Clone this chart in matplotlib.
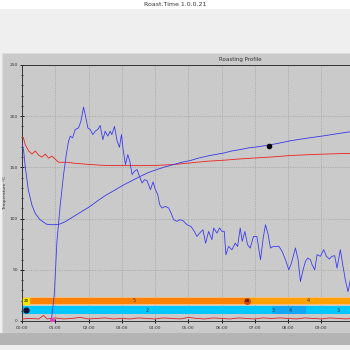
import matplotlib.pyplot as plt
from matplotlib.patches import Rectangle

# smooth blue curve (bean temperature), minutes / deg C
bean_t = [0, 0.05, 0.1, 0.19, 0.3, 0.4, 0.54, 0.74, 0.9, 1.1, 1.3, 1.55, 1.8,
          2.05, 2.3, 2.55, 2.8, 3.06, 3.3, 3.56, 3.8, 4.06, 4.3, 4.56, 4.8,
          5.06, 5.3, 5.56, 5.8, 6.06, 6.3, 6.56, 6.8, 7.06, 7.4, 7.7, 8.07,
          8.5, 9.0, 9.5, 9.9]
bean_v = [174, 166, 150, 128, 113, 105, 99, 94.5, 94, 94.2, 97, 102, 107,
          112, 118, 123.4, 128, 133, 137, 141.3, 145, 148, 150.5, 152.8, 155,
          156.7, 159, 161, 162.5, 164, 166, 167.4, 169, 170, 171.7, 173.5, 176,
          178.2, 180.5, 183, 185]

# red curve (environment temperature)
env_t = [0, 0.05, 0.1, 0.2, 0.3, 0.4, 0.5, 0.6, 0.7, 0.8, 0.9, 1.0, 1.1, 1.2,
         1.35, 1.6, 2.05, 2.55, 3.15, 3.56, 4.06, 4.56, 5.06, 5.56, 6.06,
         6.56, 7.06, 7.56, 8.07, 8.6, 9.1, 9.6, 9.9]
env_v = [180, 178, 172, 166, 163, 166, 162, 160, 163, 159, 161, 158, 155, 155,
         155, 154, 152.8, 151.8, 151.8, 151.8, 152, 152.8, 154.4, 156, 157,
         158.3, 159.3, 160.3, 161.6, 162.4, 163, 163.5, 163.7]

# noisy blue curve (probe), pairs of (minute, value)
probe_pts = [(0.88, 0), (0.97, 25.5), (1.05, 77.7), (1.15, 113.6), (1.25, 143),
             (1.33, 162.5), (1.40, 175.6), (1.45, 180.5), (1.52, 178.8),
             (1.60, 187), (1.70, 188.6), (1.77, 195), (1.85, 208.9),
             (1.90, 201.7), (1.98, 188.6), (2.05, 187), (2.13, 182),
             (2.20, 185.4), (2.28, 187), (2.35, 191), (2.43, 177),
             (2.50, 185.4), (2.58, 180.5), (2.65, 185.4), (2.70, 182),
             (2.78, 190), (2.86, 175.6), (2.93, 169.7), (2.99, 182),
             (3.04, 167.4), (3.11, 152.8), (3.18, 162.5), (3.24, 156),
             (3.31, 143), (3.38, 146.2), (3.46, 147.9), (3.53, 141.3),
             (3.61, 134.8), (3.68, 138), (3.76, 137), (3.86, 128.3),
             (3.94, 135.8), (4.01, 128.3), (4.08, 123.4), (4.14, 113.6),
             (4.21, 110.3), (4.31, 112), (4.41, 110.3), (4.48, 105.5),
             (4.56, 98.9), (4.66, 97.3), (4.74, 98.9), (4.84, 98), (4.96, 94),
             (5.08, 92.4), (5.18, 87.5), (5.26, 82.6), (5.34, 85.9),
             (5.44, 89.1), (5.52, 76), (5.61, 87.5), (5.71, 79.4),
             (5.76, 90.8), (5.86, 85.9), (5.94, 90.8), (6.01, 87.5),
             (6.08, 87.5), (6.13, 64.7), (6.21, 72.8), (6.31, 69.6),
             (6.41, 76), (6.48, 72.8), (6.56, 90.8), (6.62, 77.7),
             (6.70, 87.5), (6.78, 74.5), (6.86, 71.2), (6.96, 82.6),
             (7.06, 82.6), (7.17, 59.8), (7.25, 81), (7.32, 94), (7.40, 84.3),
             (7.47, 71.2), (7.55, 72.8), (7.62, 72.8), (7.72, 73), (7.82, 68),
             (7.92, 59.9), (8.02, 50), (8.10, 56.6), (8.22, 71.4),
             (8.30, 59.9), (8.37, 38.5), (8.45, 50), (8.52, 58.2),
             (8.59, 61.5), (8.67, 59.9), (8.72, 55), (8.80, 50), (8.87, 64.8),
             (8.97, 63.2), (9.07, 69.7), (9.15, 63.2), (9.24, 60.5),
             (9.32, 63.2), (9.40, 63.8), (9.47, 51.6), (9.57, 69.7),
             (9.65, 53.3), (9.72, 40.1), (9.80, 28.6), (9.87, 40.1),
             (9.92, 43.4)]
probe_t = [p[0] for p in probe_pts]
probe_v = [p[1] for p in probe_pts]

# red trace along the bottom
power_t = [0, 0.25, 0.5, 0.65, 0.75, 1.0, 1.25, 1.5, 1.75, 2.0, 2.25, 2.5,
           2.75, 3.0, 3.25, 3.5, 3.75, 4.0, 4.25, 4.5, 4.75, 5.0, 5.25, 5.5,
           5.75, 6.0, 6.25, 6.5, 6.75, 7.0, 7.25, 7.5, 7.75, 8.0, 8.25, 8.5,
           8.75, 9.0, 9.25, 9.5, 9.75, 9.9]
power_v = [2, 2.5, 2, 5.5, 2, 3, 2, 2.5, 3.5, 2, 2.5, 3, 2, 2.5, 2, 3, 2.5,
           2, 3, 2.5, 2, 3.5, 2.5, 2, 3, 2.5, 2, 3, 2.5, 2, 3, 2.5, 3, 2.5, 2,
           3, 2.5, 2, 3, 2.5, 2, 2.5]

# phase bands
heat_start = [0, 6.76]
heat_end = [6.76, 10.45]
heat_labels = ['5', '4']
heat_colors = ['#ff8200', '#ffa200']

fan_start = [0, 7.52, 7.6, 8.55]
fan_end = [7.52, 7.6, 8.55, 10.45]
fan_labels = ['2', '3', '4', '3']
fan_colors = ['#00c8ff', '#00b4f8', '#12a6f4', '#00c8ff']

event_t = [7.42]
event_v = [171.2]

minute_labels = ['00:00', '01:00', '02:00', '03:00', '04:00',
                 '05:00', '06:00', '07:00', '08:00', '09:00']

panel = '#cacaca'

fig = plt.figure(figsize=(3.5, 3.5), dpi=100)
fig.patch.set_facecolor('#efefef')

# window chrome
fig.add_artist(Rectangle((0, 1 - 9/350), 1, 9/350, transform=fig.transFigure,
                         facecolor='white', edgecolor='none', zorder=-5))
fig.add_artist(Rectangle((2/350, 17/350), 348/350, 280/350, transform=fig.transFigure,
                         facecolor=panel, edgecolor='#dcdcdc', lw=0.6, zorder=-5))
fig.add_artist(Rectangle((0, 5/350), 1, 12/350, transform=fig.transFigure,
                         facecolor='#b4b4b4', edgecolor='none', zorder=-5))
fig.text(0.5, 1 - 5/350, 'Roast.Time 1.0.0.21', ha='center', va='center',
         fontsize=4.5, color='#333333')
fig.text(0.686, 1 - 60/350, 'Roasting Profile', ha='center', va='center',
         fontsize=4, color='#333333')

ax = fig.add_axes([22/350, 29/350, 328/350, 256/350])
ax.set_facecolor(panel)

# bands
for s, e, lab, c in zip(heat_start, heat_end, heat_labels, heat_colors):
    ax.broken_barh([(s, e - s)], (16.3, 7.1), facecolors=c,
                   edgecolor='#f3c28a', lw=0.6, zorder=2)
    ax.text((s + e) / 2, 19.85, lab, ha='center', va='center', fontsize=3.5,
            color='#333333', zorder=4)
for s, e, lab, c in zip(fan_start, fan_end, fan_labels, fan_colors):
    ax.broken_barh([(s, e - s)], (6.5, 8.1), facecolors=c,
                   edgecolor='none', zorder=2)
    ax.text((s + e) / 2, 10.55, lab, ha='center', va='center', fontsize=3.5,
            color='#333333', zorder=4)

ax.plot([0.12], [19.85], 's', color='#f6e600', ms=4, zorder=5)
ax.text(0.12, 19.85, '20', ha='center', va='center', fontsize=3, zorder=6)
ax.plot([0.12], [10.55], 'o', color='#111133', ms=3.5, zorder=5)
ax.plot([6.76], [19.85], 'o', color='#d24a10', ms=4, zorder=5)
ax.text(6.76, 19.85, '68', ha='center', va='center', fontsize=3, zorder=6)

ax.plot(power_t, power_v, color='#e02020', lw=0.6, zorder=3)
ax.plot([0.9], [1], 'o', color='#e040c0', ms=2.5, zorder=5)

ax.plot(env_t, env_v, color='#ee2020', lw=0.6, zorder=3)
ax.plot(bean_t, bean_v, color='#3838e8', lw=0.6, zorder=3)
ax.plot(probe_t, probe_v, color='#3c3cf0', lw=0.6, zorder=3)
ax.plot(event_t, event_v, 'o', color='black', ms=3, zorder=5)

ax.set_xlim(0, 9.86)
ax.set_ylim(0, 250)
ax.set_xticks(range(len(minute_labels)))
ax.set_xticklabels(minute_labels, fontsize=3.2, color='#333333')
ax.set_yticks([0, 50, 100, 150, 200, 250])
ax.set_yticks(range(0, 251, 10), minor=True)
ax.tick_params(axis='y', labelsize=3.2, labelcolor='#333333', direction='inout',
               length=3, width=0.6, pad=1.5)
ax.tick_params(axis='y', which='minor', direction='inout', length=2, width=0.5)
ax.tick_params(axis='x', direction='inout', length=3, width=0.6, pad=2)
ax.set_ylabel('Temperature \u00b0C', fontsize=3.2, color='#333333', labelpad=2)

ax.grid(True, which='major', color='#959595', linestyle=(0, (1, 1.5)), lw=0.5)
ax.set_axisbelow(True)
for side in ['left', 'bottom', 'top']:
    ax.spines[side].set_color('#333333')
    ax.spines[side].set_linewidth(0.7)
ax.spines['right'].set_visible(False)

plt.savefig('out.png', dpi=100, facecolor=fig.get_facecolor())
